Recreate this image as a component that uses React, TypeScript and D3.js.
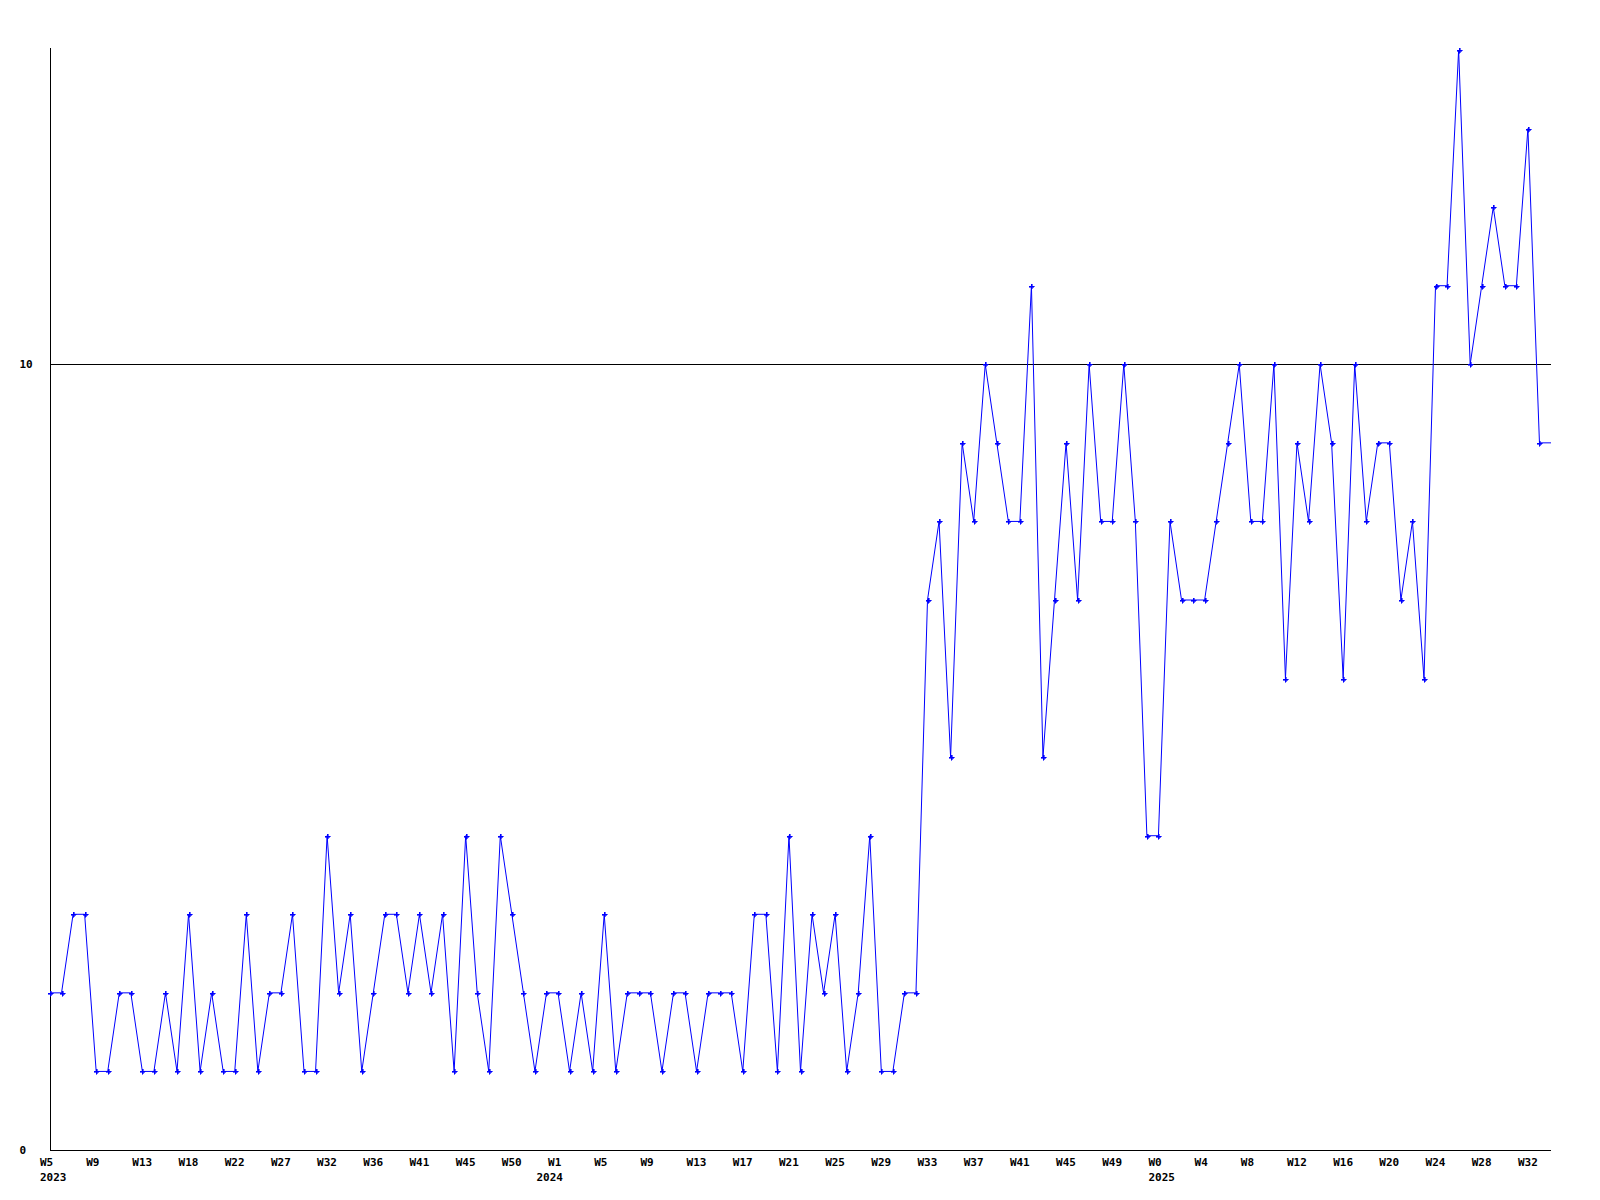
import React from "react";
import * as d3 from "d3";

const values: number[] = [
  2, 2, 3, 3, 1, 1, 2, 2, 1, 1, 2, 1, 3, 1, 2, 1, 1, 3, 1, 2,
  2, 3, 1, 1, 4, 2, 3, 1, 2, 3, 3, 2, 3, 2, 3, 1, 4, 2, 1, 4,
  3, 2, 1, 2, 2, 1, 2, 1, 3, 1, 2, 2, 2, 1, 2, 2, 1, 2, 2, 2,
  1, 3, 3, 1, 4, 1, 3, 2, 3, 1, 2, 4, 1, 1, 2, 2, 7, 8, 5, 9,
  8, 10, 9, 8, 8, 11, 5, 7, 9, 7, 10, 8, 8, 10, 8, 4, 4, 8, 7, 7,
  7, 8, 9, 10, 8, 8, 10, 6, 9, 8, 10, 9, 6, 10, 8, 9, 9, 7, 8, 6,
  11, 11, 14, 10, 11, 12, 11, 11, 13, 9, 9,
];

const weekLabels: string[] = [
  "W5", "W9", "W13", "W18", "W22", "W27", "W32", "W36", "W41", "W45", "W50",
  "W1", "W5", "W9", "W13", "W17", "W21", "W25", "W29", "W33", "W37", "W41",
  "W45", "W49", "W0", "W4", "W8", "W12", "W16", "W20", "W24", "W28", "W32",
];
const weekTickStep = 4;

const yearLabels: string[] = ["2023", "2024", "2025"];
const yearLabelAt: number[] = [0, 43, 96];

const yTicks: number[] = [0, 10];
const yGrid: number[] = [10];
const yMax = 14;

const FONT = "'DejaVu Sans Mono', 'Liberation Mono', monospace";

export default function App() {
  const left = 50, right = 1551, top = 50, bottom = 1150;
  const x = d3.scaleLinear().domain([0, values.length - 1]).range([left, right]);
  const y = d3.scaleLinear().domain([0, yMax]).range([bottom, top]);
  const line = d3
    .line<number>()
    .x((_, i) => x(i))
    .y((d) => y(d));
  const marker = (cx: number, cy: number) =>
    `M${cx - 2.5},${cy - 0.5}h2v-2h1v2h2v1h-2v2h-1v-2h-2z`;

  return (
    <svg
      width={1600}
      height={1200}
      style={{ position: "absolute", left: 0, top: 0, background: "#fff" }}
      shapeRendering="crispEdges"
    >
      <rect x={0} y={0} width={1600} height={1200} fill="#fff" />
      {yGrid.map((v) => (
        <line key={v} x1={left} x2={right} y1={Math.round(y(v)) + 0.5} y2={Math.round(y(v)) + 0.5} stroke="#000" strokeWidth={1} />
      ))}
      <line x1={left + 0.5} x2={left + 0.5} y1={top - 2} y2={bottom} stroke="#000" strokeWidth={1} />
      <line x1={left} x2={right} y1={bottom + 0.5} y2={bottom + 0.5} stroke="#000" strokeWidth={1} />
      <path d={line(values) || ""} fill="none" stroke="#0000ff" strokeWidth={1} shapeRendering="auto" />
      {values.slice(0, values.length - 1).map((v, i) => (
        <path key={i} d={marker(Math.round(x(i)) + 0.5, Math.round(y(v)) + 0.5)} fill="#0000ff" stroke="#0000ff" strokeWidth={0.6} />
      ))}
      {yTicks.map((v) => (
        <text key={v} x={19.5} y={y(v) + 4} fontFamily={FONT} fontWeight="bold" fontSize={11} fill="#000">
          {v}
        </text>
      ))}
      {weekLabels.map((w, k) => (
        <text key={k} x={x(k * weekTickStep) - 10} y={1166} fontFamily={FONT} fontWeight="bold" fontSize={11} fill="#000">
          {w}
        </text>
      ))}
      {yearLabels.map((yl, k) => (
        <text key={yl} x={x(yearLabelAt[k]) - 10} y={1181} fontFamily={FONT} fontWeight="bold" fontSize={11} fill="#000">
          {yl}
        </text>
      ))}
    </svg>
  );
}
